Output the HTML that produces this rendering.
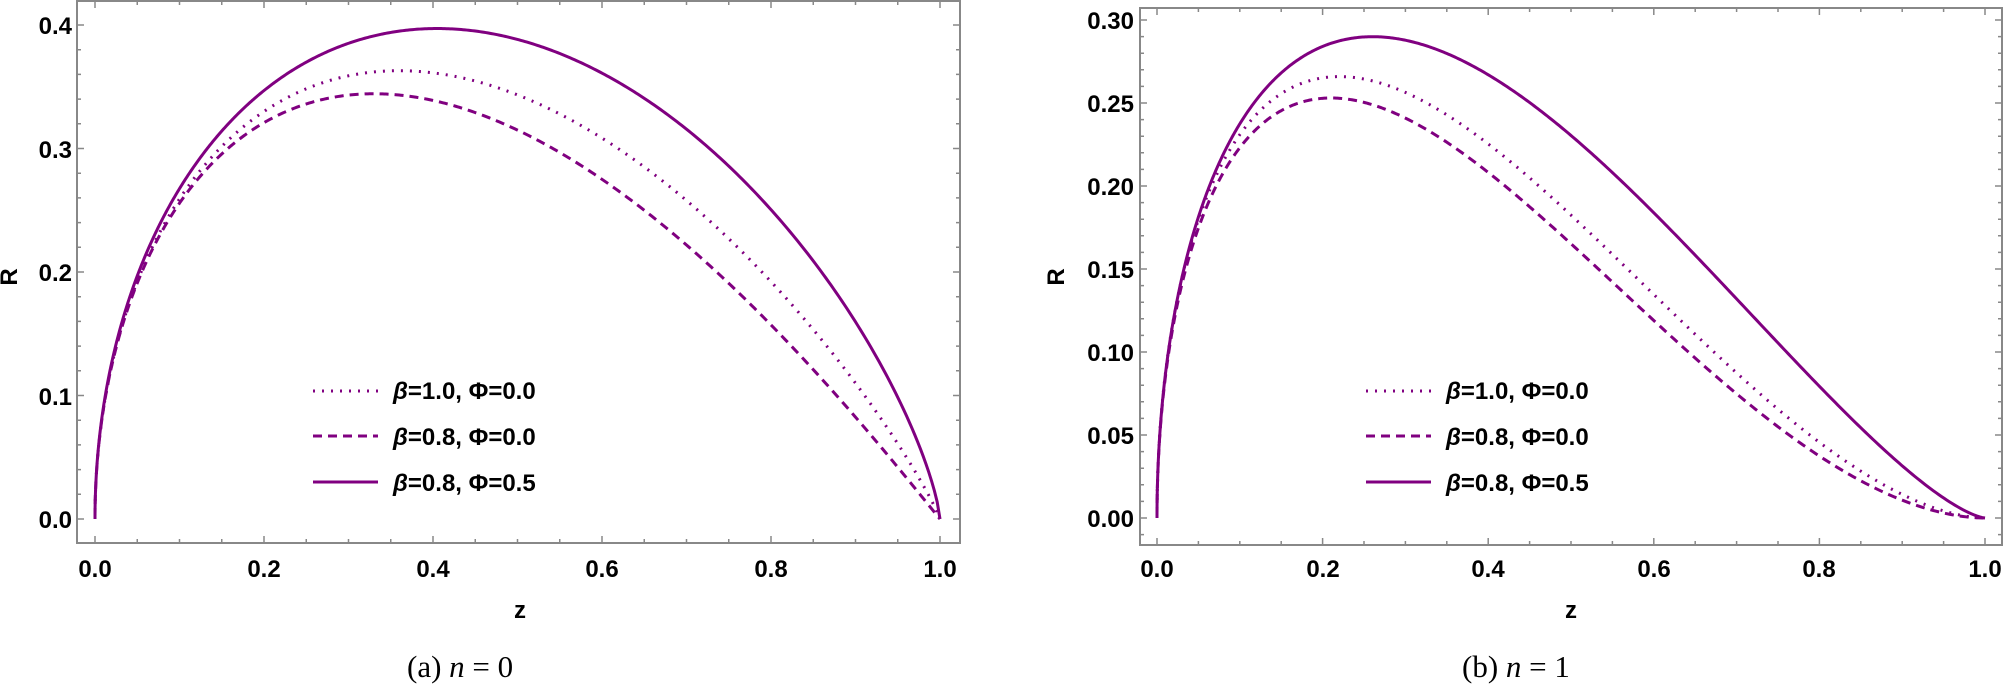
<!DOCTYPE html>
<html><head><meta charset="utf-8"><style>
html,body{margin:0;padding:0;background:#fff;}
svg{display:block;}
.t{font-family:"Liberation Sans",sans-serif;font-weight:bold;font-size:24px;fill:#000;}
.c{font-family:"Liberation Serif",serif;font-size:31px;fill:#000;}
</style></head><body>
<svg id="s" width="2008" height="687" xmlns="http://www.w3.org/2000/svg">
<g id="g"></g>
<!-- left tick labels -->
<g class="t" text-anchor="end">
<text x="72" y="528">0.0</text><text x="72" y="405">0.1</text><text x="72" y="281">0.2</text><text x="72" y="158">0.3</text><text x="72" y="34">0.4</text>
</g>
<g class="t" text-anchor="middle">
<text x="95" y="577">0.0</text><text x="264" y="577">0.2</text><text x="433" y="577">0.4</text><text x="602" y="577">0.6</text><text x="771" y="577">0.8</text><text x="940" y="577">1.0</text>
<text x="520" y="618">z</text>
</g>
<text class="t" transform="translate(17,277) rotate(-90)" text-anchor="middle">R</text>
<!-- right tick labels -->
<g class="t" text-anchor="end">
<text x="1134" y="527">0.00</text><text x="1134" y="444">0.05</text><text x="1134" y="361">0.10</text><text x="1134" y="278">0.15</text><text x="1134" y="195">0.20</text><text x="1134" y="112">0.25</text><text x="1134" y="29">0.30</text>
</g>
<g class="t" text-anchor="middle">
<text x="1157" y="577">0.0</text><text x="1323" y="577">0.2</text><text x="1488" y="577">0.4</text><text x="1654" y="577">0.6</text><text x="1819" y="577">0.8</text><text x="1985" y="577">1.0</text>
<text x="1571" y="618">z</text>
</g>
<text class="t" transform="translate(1064,277) rotate(-90)" text-anchor="middle">R</text>
<!-- legends -->
<g stroke="#800080" stroke-width="3">
<line x1="313" y1="391" x2="378" y2="391" stroke-dasharray="2,7"/>
<line x1="313" y1="436" x2="378" y2="436" stroke-dasharray="9,6"/>
<line x1="313" y1="482" x2="378" y2="482"/>
<line x1="1366" y1="391" x2="1431" y2="391" stroke-dasharray="2,7"/>
<line x1="1366" y1="436" x2="1431" y2="436" stroke-dasharray="9,6"/>
<line x1="1366" y1="482" x2="1431" y2="482"/>
</g>
<g class="t">
<text x="393" y="399"><tspan font-style="italic">β</tspan>=1.0, Φ=0.0</text>
<text x="393" y="445"><tspan font-style="italic">β</tspan>=0.8, Φ=0.0</text>
<text x="393" y="491"><tspan font-style="italic">β</tspan>=0.8, Φ=0.5</text>
<text x="1446" y="399"><tspan font-style="italic">β</tspan>=1.0, Φ=0.0</text>
<text x="1446" y="445"><tspan font-style="italic">β</tspan>=0.8, Φ=0.0</text>
<text x="1446" y="491"><tspan font-style="italic">β</tspan>=0.8, Φ=0.5</text>
</g>
<text class="c" x="407" y="677">(a) <tspan font-style="italic">n</tspan> = 0</text>
<text class="c" x="1462" y="677">(b) <tspan font-style="italic">n</tspan> = 1</text>
</svg>
<script>
const g=document.getElementById('g');const NS='http://www.w3.org/2000/svg';
function el(n,a){const e=document.createElementNS(NS,n);for(const k in a)e.setAttribute(k,a[k]);g.appendChild(e);return e;}
function plot(P){
 const {L,R,T,B,x0,ux,y0,uy,ymaj,ymin,ymax,curves}=P;
 el('rect',{x:L,y:T,width:R-L,height:B-T,fill:'none',stroke:'#888','stroke-width':2});
 let d='';
 for(let i=-2;i<=22;i++){const v=i*0.05;const x=x0+v*ux;if(x<=L+1||x>=R-1)continue;const len=(i%4==0)?7:4;
  d+=`M${x},${B}v${-len}M${x},${T}v${len}`;}
 for(let i=-10;i<=200;i++){const v=i*ymin;const y=y0-v*uy;if(y<=T+1||y>=B-1)continue;const maj=Math.abs(v/ymaj-Math.round(v/ymaj))<1e-6;const len=maj?7:4;
  d+=`M${L},${y}h${len}M${R},${y}h${-len}`;}
 el('path',{d:d,stroke:'#888','stroke-width':1.5,fill:'none'});
 for(const c of curves){let p='';for(let i=0;i<=600;i++){const z=Math.pow(i/600,2);const r=c.a*Math.pow(z,0.5)*Math.pow(1-z,c.q);
  p+=(i?'L':'M')+(x0+z*ux).toFixed(2)+','+(y0-r*uy).toFixed(2);}
  const a={d:p,stroke:'#800080','stroke-width':3,fill:'none'};if(c.da)a['stroke-dasharray']=c.da;el('path',a);}
}
plot({L:77,R:960,T:1,B:543,x0:95,ux:845,y0:519,uy:1235,ymaj:0.1,ymin:0.02,
 curves:[{a:0.90,q:0.89,da:'2,7'},{a:0.90,q:1.015,da:'9,6'},{a:0.914,q:0.735}]});
plot({L:1140,R:2002,T:8,B:545,x0:1157,ux:828,y0:518,uy:1660,ymaj:0.05,ymin:0.01,
 curves:[{a:0.88,q:1.77,da:'2,7'},{a:0.86,q:1.88,da:'9,6'},{a:0.872,q:1.42}]});
</script>
</body></html>
